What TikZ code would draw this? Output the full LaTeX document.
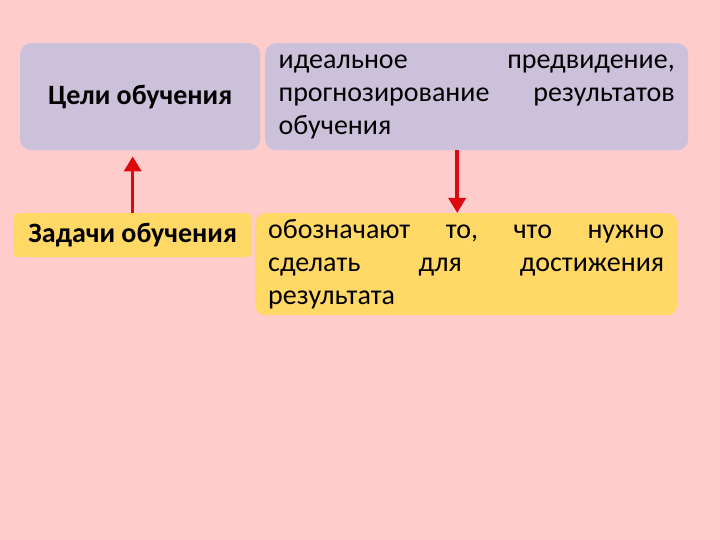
\documentclass[tikz,border=0pt]{standalone}
\usepackage{fontspec}
\setmainfont{Carlito}
\usepackage{tikz}
\usetikzlibrary{arrows.meta}

\definecolor{fonpink}{RGB}{255,204,204}
\definecolor{lavbox}{RGB}{204,193,218}
\definecolor{goldbox}{RGB}{255,216,102}
\definecolor{arrowred}{RGB}{222,8,16}

\tikzset{
	lavblock/.style={fill=lavbox, rounded corners=11pt, inner sep=0pt},
	goldblock/.style={fill=goldbox, rounded corners=10pt, inner sep=0pt},
	bodytext/.style={text width=396pt, align=left, font=\fontsize{28}{33}\selectfont},
	headtext/.style={font=\fontsize{28}{33}\selectfont\bfseries},
	redarrow/.style={draw=arrowred, line width=3.5pt, -{Triangle[length=15pt,width=17pt]}}
}

\begin{document}
\begin{tikzpicture}[x=1pt, y=-1pt]
			\fill[fonpink] (0, 0) rectangle (720, 540);
			\useasboundingbox (0, 0) rectangle (720, 540);
			% upper row
			\node[lavblock, headtext, anchor=north west, minimum width=240pt, minimum height=107pt]
				(celi) at (20, 43) {Цели обучения};
			\node[lavblock, bodytext, anchor=north west, minimum width=423pt, minimum height=107pt]
				(ideal) at (265, 43)
				{идеальное \hfill предвидение,\\
				прогнозирование \hfill результатов\\
				обучения};
			% lower row
			\node[goldblock, headtext, rounded corners=5pt, anchor=north west, minimum width=239pt, minimum height=44pt]
				(zadachi) at (13, 213) {Задачи обучения};
			\node[goldblock, bodytext, anchor=north west, minimum width=422pt, minimum height=102pt]
				(oboznach) at (255, 213)
				{обозначают \hfill то, \hfill что \hfill нужно\\
				сделать \hfill для \hfill достижения\\
				результата};
			% arrows
			\draw[redarrow, shorten >=6pt] (zadachi.north) -- (zadachi.north |- celi.south);
			\draw[redarrow] ([xshift=-19.5pt]ideal.south) -- ([xshift=-19.5pt]ideal.south |- oboznach.north);
		\end{tikzpicture}
\end{document}
